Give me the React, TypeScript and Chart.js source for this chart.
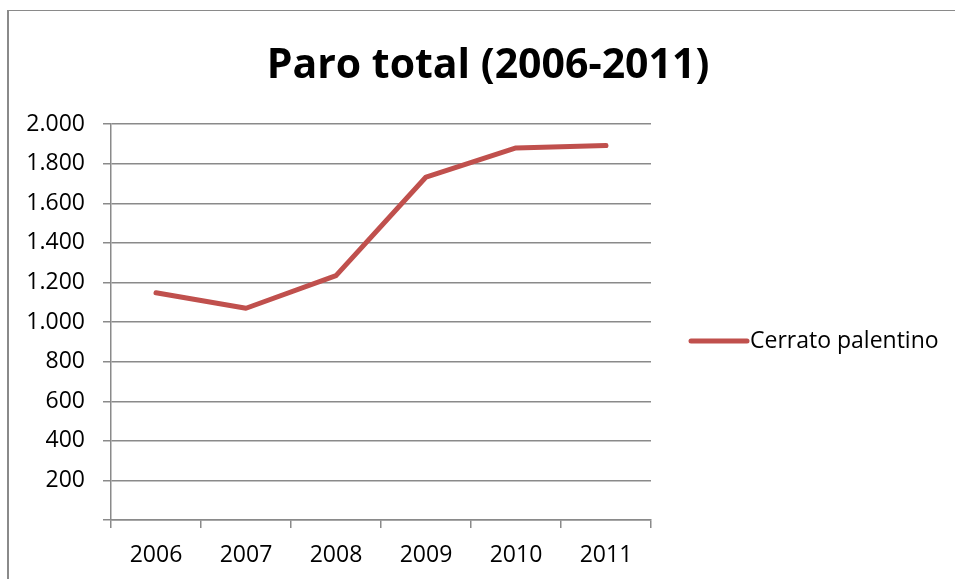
import React, { useEffect, useRef } from "react";
import { Chart, registerables } from "chart.js";

Chart.register(...registerables);

const categories = ["2006", "2007", "2008", "2009", "2010", "2011"];
const seriesLabel = "Cerrato palentino";
const seriesValues = [1148, 1070, 1235, 1733, 1880, 1892];
const titleText = "Paro total (2006-2011)";
const yMin = 0;
const yMax = 2000;
const yStep = 200;

const LINE_COLOR = "#C0504D";
const GRID_COLOR = "#8a8a8a";
const FONT = "'Open Sans', 'Liberation Sans', sans-serif";

function fmt(v: number): string {
  return String(Math.round(v)).replace(/\B(?=(\d{3})+(?!\d))/g, ".");
}

const legendPlugin = {
  id: "customLegend",
  afterDraw(chart: any) {
    const ctx = chart.ctx;
    const ds = chart.data.datasets[0];
    const area = chart.chartArea;
    const y = (area.top + area.bottom) / 2 + 19;
    const x0 = area.right + 40;
    ctx.save();
    ctx.strokeStyle = ds.borderColor;
    ctx.lineWidth = 5;
    ctx.lineCap = "round";
    ctx.beginPath();
    ctx.moveTo(x0, y);
    ctx.lineTo(x0 + 56, y);
    ctx.stroke();
    ctx.fillStyle = "#000";
    ctx.font = `23px ${FONT}`;
    ctx.textBaseline = "middle";
    ctx.textAlign = "left";
    ctx.fillText(ds.label, x0 + 59, y);
    ctx.restore();
  },
};

export default function App() {
  const ref = useRef<HTMLCanvasElement | null>(null);

  useEffect(() => {
    if (!ref.current) return;
    const chart = new Chart(ref.current, {
      type: "line",
      data: {
        labels: categories,
        datasets: [
          {
            label: seriesLabel,
            data: seriesValues,
            borderColor: LINE_COLOR,
            backgroundColor: LINE_COLOR,
            borderWidth: 5,
            pointRadius: 0,
            tension: 0,
            borderCapStyle: "round",
            borderJoinStyle: "round",
            yAxisID: "y",
          },
        ],
      },
      options: {
        animation: false,
        responsive: false,
        maintainAspectRatio: false,
        layout: { padding: { left: 21, right: 0, top: 18, bottom: 0 } },
        plugins: {
          legend: { display: false },
          tooltip: { enabled: false },
          title: {
            display: true,
            text: titleText,
            color: "#000",
            font: { family: FONT, size: 41, weight: "bold", lineHeight: 1.2 },
            padding: { top: 24, bottom: 33 },
          },
        },
        scales: {
          x: {
            type: "category",
            offset: true,
            grid: {
              display: true,
              drawOnChartArea: false,
              drawTicks: true,
              tickLength: 8,
              offset: true,
              color: GRID_COLOR,
              lineWidth: 1.5,
            },
            border: { display: true, color: GRID_COLOR, width: 1.5 },
            ticks: {
              color: "#000",
              font: { family: FONT, size: 23 },
              padding: 14,
              maxRotation: 0,
            },
            afterFit: (s: any) => {
              s.height = 59;
            },
          },
          y: {
            type: "linear",
            position: "left",
            min: yMin,
            max: yMax,
            grid: {
              display: true,
              drawOnChartArea: true,
              drawTicks: true,
              tickLength: 8,
              color: GRID_COLOR,
              lineWidth: 1.5,
            },
            border: { display: true, color: GRID_COLOR, width: 1.5 },
            ticks: {
              stepSize: yStep,
              color: "#000",
              font: { family: FONT, size: 23 },
              padding: 18,
              callback: (v: any) => (Number(v) === 0 ? "" : fmt(Number(v))),
            },
            afterFit: (s: any) => {
              s.width = 90;
            },
          },
          yRight: {
            type: "linear",
            position: "right",
            display: true,
            grid: { display: false, drawTicks: false },
            border: { display: false },
            ticks: { display: false },
            afterFit: (s: any) => {
              s.width = 304;
            },
          },
        },
      },
      plugins: [legendPlugin],
    });
    return () => chart.destroy();
  }, []);

  return (
    <div style={{ position: "fixed", left: 0, top: 0, width: 955, height: 579, background: "#fff" }}>
      <div
        style={{
          position: "absolute",
          left: 7,
          top: 10,
          width: 955 - 7,
          height: 579,
          borderLeft: "2px solid #8a8a8a",
          borderTop: "1.5px solid #8a8a8a",
          boxSizing: "border-box",
        }}
      />
      <canvas ref={ref} width={955} height={579} style={{ position: "absolute", left: 0, top: 0, width: 955, height: 579 }} />
    </div>
  );
}
